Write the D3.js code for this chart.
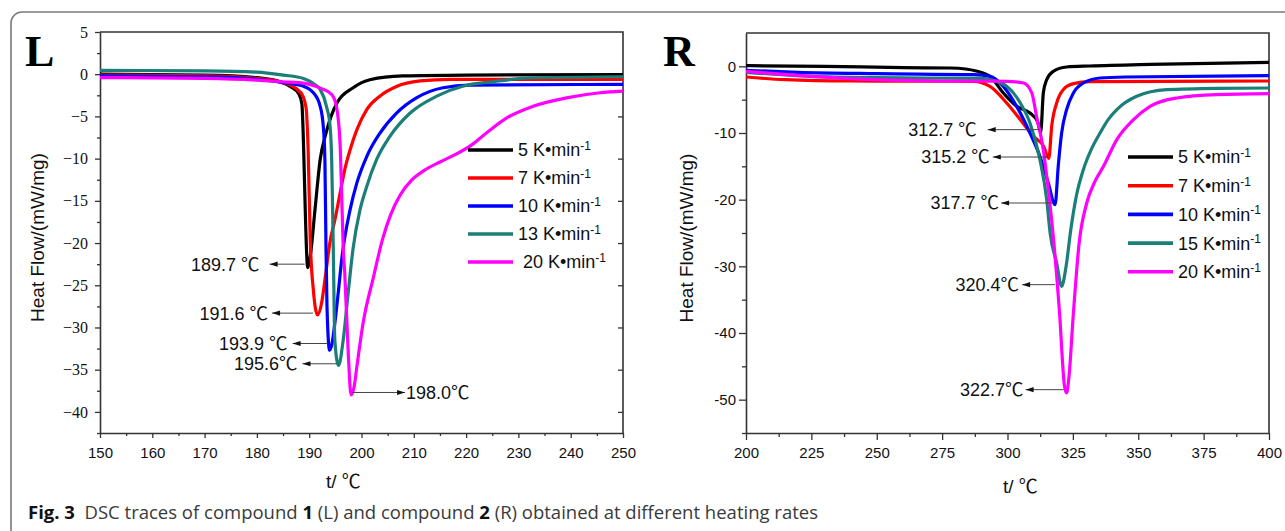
<!DOCTYPE html>
<meta charset="utf-8" />
<script src="https://d3js.org/d3.v7.min.js"></script>
<style>
  body { margin: 0; background: #fff; }
</style>
<body>
<div id="chart"></div>
<script>
// heating rates and line colours
const ratesL = ["5", "7", "10", "13", " 20"];
const ratesR = ["5", "7", "10", "15", "20"];
const colors = ["#000000", "#ff0000", "#0000ff", "#1a7f78", "#ff00ff"];

// compound 1 (L): [t / degC, heat flow / (mW/mg)]
const L5 = [[150,0.0],[170,-0.1],[180,-0.4],[184,-0.8],[186.5,-1.5],[188,-2.3],[188.6,-3.5],[188.9,-8],[189.2,-15],[189.5,-21],[189.7,-22.9],[190.2,-21.6],[191.1,-16.1],[192.1,-10.1],[193.2,-7.0],[195.3,-3.4],[198.4,-1.6],[201.6,-0.65],[207.9,-0.2],[220,-0.1],[250,-0.05]];
const L7 = [[150,-0.1],[170,-0.2],[180,-0.5],[185,-1.0],[187.5,-1.7],[188.8,-2.6],[189.4,-4],[189.8,-9],[190.2,-19.6],[190.8,-25.6],[191.6,-28.5],[192.4,-27],[193.0,-24.4],[194.0,-19.8],[194.9,-17.3],[195.9,-14.1],[196.8,-11.3],[197.8,-9.0],[199.1,-6.6],[201.0,-4.2],[203.5,-2.6],[206.7,-1.45],[211.2,-0.8],[217,-0.6],[250,-0.6]];
const L10 = [[150,-0.2],[170,-0.3],[180,-0.6],[185,-1.0],[188.8,-1.4],[190.8,-2.2],[192.1,-3.8],[192.7,-6.2],[193.0,-10.1],[193.2,-20],[193.4,-27.5],[193.9,-32.7],[194.4,-31.8],[194.9,-29.5],[195.6,-25.6],[196.3,-21.5],[197.8,-16.1],[199.1,-12.9],[201.0,-9.75],[203.5,-7.0],[206.7,-4.6],[210.5,-2.8],[215.6,-1.6],[220.7,-1.3],[250,-1.2]];
const L13 = [[150,0.45],[170,0.4],[180,0.25],[185,-0.1],[188.9,-0.5],[191,-1.2],[192.1,-1.8],[193.3,-3.8],[194.0,-6.2],[194.3,-10.1],[194.6,-20.4],[194.9,-31.5],[195.6,-34.5],[196.5,-31.5],[197.5,-25.6],[198.4,-20.6],[199.7,-16.1],[201.0,-13.3],[202.9,-10.1],[205.4,-7.4],[209.3,-4.6],[214.4,-2.6],[219.5,-1.4],[225,-0.9],[232,-0.45],[250,-0.3]];
const L20 = [[150,-0.4],[170,-0.5],[180,-0.7],[185,-0.9],[188.9,-1.05],[192.1,-1.65],[194.3,-2.4],[195.2,-3.8],[195.9,-8.2],[196.2,-14.1],[196.5,-20.4],[196.8,-23.6],[197.5,-33.5],[198.0,-38.0],[198.6,-37.0],[199.1,-34.7],[200.3,-29.5],[202.3,-24.0],[204.0,-19.6],[205.6,-16.6],[207.4,-14.3],[209.5,-12.6],[212,-11.4],[215,-10.4],[218,-9.5],[221,-8.4],[224,-6.9],[227.7,-5.2],[232.8,-3.8],[239.2,-2.8],[245.6,-2.2],[250,-2.0]];

// compound 2 (R)
const R5 = [[200,0.1],[230,0.0],[260,-0.2],[278,-0.25],[284,-0.4],[288,-0.7],[293.3,-1.5],[298.4,-4.0],[303.5,-6.0],[308.6,-7.0],[311.5,-8.3],[312.7,-9.9],[313.7,-4.0],[315.0,-2.0],[317.5,-0.75],[322.6,-0.1],[331.5,0.05],[354.5,0.3],[400,0.6]];
const R7 = [[200,-1.6],[215,-2.0],[240,-2.2],[287,-2.25],[293.3,-3.0],[299.7,-5.5],[304.9,-8.0],[309.9,-10.5],[313.8,-12.0],[315.8,-13.8],[316.9,-9.0],[318.8,-5.5],[321.3,-3.5],[325.2,-2.6],[331.5,-2.3],[360,-2.25],[400,-2.2]];
const R10 = [[200,-0.6],[220,-0.9],[250,-1.1],[287,-1.25],[293.3,-1.5],[298.4,-3.0],[303.5,-6.0],[308.6,-10.0],[312.4,-13.5],[315.6,-17.5],[318.2,-20.75],[319.4,-15.0],[320.7,-10.0],[322.6,-6.5],[325.2,-4.0],[329.0,-2.5],[335.4,-1.75],[345,-1.6],[400,-1.4]];
const R15 = [[200,-0.9],[225,-1.5],[250,-1.7],[290,-1.8],[293.3,-2.0],[299.7,-3.0],[304.9,-5.5],[308.6,-8.5],[312.4,-14.0],[315.0,-20.0],[316.3,-25.0],[318.8,-29.5],[320.7,-33.0],[322.4,-30.0],[324.2,-24.5],[326.3,-19.5],[329.0,-15.5],[332,-12.5],[335.4,-10.0],[338.5,-8.0],[341.8,-6.5],[349.4,-4.5],[360.9,-3.5],[380,-3.3],[400,-3.25]];
const R20 = [[200,-0.75],[225,-1.5],[250,-2.0],[274,-2.2],[299.7,-2.25],[306.1,-2.5],[309.3,-4.0],[311.1,-7.5],[313.7,-12.5],[315.6,-18.5],[317.5,-25.5],[319.9,-37.0],[321.8,-48.0],[322.6,-49.0],[323.4,-47],[325.2,-37.0],[327.4,-26.5],[330.3,-20.5],[333.4,-17.3],[336.7,-15.0],[341.8,-11.0],[348.2,-8.0],[354.5,-6.0],[364.7,-4.75],[380,-4.25],[400,-4.1]];

// peak markers: where the arrow starts and the printed label
const peakTL = [189.7, 191.6, 193.9, 195.6, 198.0];
const peakVL = [-22.5, -28.3, -31.9, -34.3, -37.7];
const peakTextL = ["189.7 ", "191.6 ", "193.9 ", "195.6", "198.0"];
const peakTR = [312.7, 315.8, 318.2, 320.7, 322.6];
const peakVR = [-9.5, -13.6, -20.5, -32.75, -48.5];
const peakTextR = ["312.7 ", "315.2 ", "317.7 ", "320.4", "322.7"];

// axis ticks
const xTicksL = d3.range(150, 251, 10);
const xMinorL = d3.range(155, 250, 10);
const yTicksL = d3.range(-40, 6, 5);
const yMinorL = d3.range(-42.5, 5, 5);
const xTicksR = d3.range(200, 401, 25);
const xMinorR = d3.range(212.5, 400, 25);
const yTicksR = d3.range(-50, 1, 10);
const yMinorR = d3.range(-55, 5, 10);

const W = 1285, H = 531;
const sans = "'Liberation Sans', Arial, sans-serif";
const cjk = "'Noto Sans CJK SC', 'DejaVu Sans', sans-serif";

const svg = d3.select("#chart").append("svg")
  .attr("width", W).attr("height", H)
  .style("font-family", sans);

// outer frame of the figure box
svg.append("rect")
  .attr("x", 11).attr("y", 12).attr("width", 1320).attr("height", 600)
  .attr("rx", 11)
  .attr("fill", "none").attr("stroke", "#7a7a7a").attr("stroke-width", 1.6);

function drawPanel(p) {
  const x = d3.scaleLinear().domain(p.xDomain).range([p.left, p.right]);
  const y = d3.scaleLinear().domain(p.yDomain).range([p.bottom, p.top]);
  const g = svg.append("g");
  const axisColor = "#333";

  // clip
  const clipId = "clip" + p.name;
  g.append("clipPath").attr("id", clipId).append("rect")
    .attr("x", p.left).attr("y", p.top)
    .attr("width", p.right - p.left).attr("height", p.bottom - p.top);

  // minor ticks
  g.append("g").attr("transform", `translate(0,${p.bottom})`)
    .call(d3.axisBottom(x).tickValues(p.xMinor).tickSize(p.minorLen).tickFormat(""))
    .call(s => s.select(".domain").remove());
  g.append("g").attr("transform", `translate(${p.left},0)`)
    .call(d3.axisLeft(y).tickValues(p.yMinor).tickSize(p.minorLen).tickFormat(""))
    .call(s => s.select(".domain").remove());

  // major axes
  const xa = g.append("g").attr("transform", `translate(0,${p.bottom})`)
    .call(d3.axisBottom(x).tickValues(p.xTicks).tickSize(p.majorLen).tickSizeOuter(0).tickPadding(p.xPad).tickFormat(d3.format("d")));
  xa.selectAll("text").style("font-family", sans).style("font-size", "15px").attr("fill", "#111");

  const ya = g.append("g").attr("transform", `translate(${p.left},0)`)
    .call(d3.axisLeft(y).tickValues(p.yTicks).tickSize(p.majorLen).tickSizeOuter(0).tickPadding(p.yPad).tickFormat(p.yFormat));
  ya.selectAll("text").style("font-family", p.yFont).style("font-size", p.yFontSize).attr("fill", "#111");

  if (p.mirror) {
    g.append("g").attr("transform", `translate(${p.right},0)`)
      .call(d3.axisLeft(y).tickValues(p.yTicks.filter(v => v < 5)).tickSize(p.majorLen).tickFormat(""))
      .call(s => s.select(".domain").remove());
  }

  g.selectAll(".tick line").attr("stroke", axisColor).attr("stroke-width", 1.3);
  g.selectAll(".domain").attr("stroke", axisColor).attr("stroke-width", 1.6);

  // top and right frame lines
  g.append("path")
    .attr("d", `M${p.left},${p.top}H${p.right}V${p.bottom}`)
    .attr("fill", "none").attr("stroke", axisColor).attr("stroke-width", 1.6);

  // traces
  const line = d3.line().x(d => x(d[0])).y(d => y(d[1])).curve(d3.curveMonotoneX);
  g.append("g").attr("clip-path", `url(#${clipId})`)
    .selectAll("path").data(p.series).join("path")
    .attr("d", line)
    .attr("fill", "none")
    .attr("stroke", (d, i) => colors[i])
    .attr("stroke-width", 3.2)
    .attr("stroke-linejoin", "round");

  // peak arrows
  p.peakT.forEach((t, i) => {
    const a = p.arrows[i];
    const yy = y(p.peakV[i]);
    const xs = x(t) + a.off;
    const xe = xs + a.dir * a.len;
    g.append("line").attr("x1", xs).attr("x2", xe).attr("y1", yy).attr("y2", yy)
      .attr("stroke", "#444").attr("stroke-width", 1);
    const hl = 8, hw = 2.6;
    g.append("path")
      .attr("d", `M${xe},${yy}L${xe - a.dir * hl},${yy - hw}L${xe - a.dir * hl},${yy + hw}Z`)
      .attr("fill", "#111");
    const txt = g.append("text")
      .attr("x", xe + a.dir * a.gap).attr("y", yy).attr("dy", "0.36em")
      .attr("text-anchor", a.dir < 0 ? "end" : "start")
      .style("font-size", "18px").attr("fill", "#111");
    txt.append("tspan").text(p.peakText[i]);
    txt.append("tspan").style("font-family", cjk).style("font-size", "18.5px").text("\u2103");
  });

  // legend
  p.rates.forEach((r, i) => {
    const ly = p.legY + i * p.legDy;
    g.append("line").attr("x1", p.legX).attr("x2", p.legX + 45)
      .attr("y1", ly).attr("y2", ly)
      .attr("stroke", colors[i]).attr("stroke-width", 3.6);
    const t = g.append("text").attr("x", p.legX + 50).attr("y", ly).attr("dy", "0.36em")
      .style("font-size", "18px").attr("fill", "#111").attr("xml:space", "preserve");
    t.append("tspan").text(r + " K\u2022min");
    t.append("tspan").attr("dy", "-0.55em").style("font-size", "12px").text("-1");
  });

  // axis titles
  g.append("text")
    .attr("transform", `translate(${p.yTitleX},${(p.top + p.bottom) / 2 + 5}) rotate(-90)`)
    .attr("text-anchor", "middle").style("font-size", "19px").attr("fill", "#111")
    .text("Heat Flow/(mW/mg)");
  const xt = g.append("text").attr("x", p.xTitleX).attr("y", p.xTitleY)
    .style("font-size", "19px").attr("fill", "#111");
  xt.append("tspan").text("t/ ");
  xt.append("tspan").style("font-family", cjk).text("\u2103");

  // panel letter
  g.append("text").attr("x", p.letterX).attr("y", 66)
    .style("font-family", "'Liberation Serif', 'Times New Roman', serif")
    .style("font-weight", "bold").style("font-size", "44px").attr("fill", "#000")
    .text(p.name);
}

drawPanel({
  name: "L", left: 100, right: 623, top: 32, bottom: 433,
  xDomain: [150, 250], yDomain: [-42.5, 5],
  xTicks: xTicksL, xMinor: xMinorL, yTicks: yTicksL, yMinor: yMinorL,
  majorLen: 5, minorLen: 3, xPad: 9, yPad: 7,
  yFormat: d3.format("d"), yFont: "'Liberation Serif', 'Times New Roman', serif", yFontSize: "16px",
  mirror: true,
  series: [L5, L7, L10, L13, L20],
  peakT: peakTL, peakV: peakVL, peakText: peakTextL,
  arrows: [
    { off: -3, len: 35, dir: -1, gap: 10 },
    { off: -4.5, len: 41, dir: -1, gap: 4 },
    { off: -2, len: 35, dir: -1, gap: 5 },
    { off: -2, len: 34, dir: -1, gap: 5 },
    { off: 1, len: 53, dir: 1, gap: 1 }
  ],
  rates: ratesL, legX: 468, legY: 150, legDy: 28,
  yTitleX: 44, xTitleX: 326, xTitleY: 488, letterX: 25
});

drawPanel({
  name: "R", left: 746, right: 1269, top: 33, bottom: 433,
  xDomain: [200, 400], yDomain: [-55, 5],
  xTicks: xTicksR, xMinor: xMinorR, yTicks: yTicksR, yMinor: yMinorR,
  majorLen: 7, minorLen: 4, xPad: 7, yPad: 3,
  yFormat: d => String(d), yFont: sans, yFontSize: "15px",
  mirror: false,
  series: [R5, R7, R10, R15, R20],
  peakT: peakTR, peakV: peakVR, peakText: peakTextR,
  arrows: [
    { off: -1, len: 52, dir: -1, gap: 11 },
    { off: -1, len: 55, dir: -1, gap: 3 },
    { off: -2, len: 52, dir: -1, gap: 2 },
    { off: -6.5, len: 33, dir: -1, gap: 3 },
    { off: -3, len: 38, dir: -1, gap: 2 }
  ],
  rates: ratesR, legX: 1128, legY: 157, legDy: 28.7,
  yTitleX: 693, xTitleX: 1003, xTitleY: 493, letterX: 663
});

// caption
const cap = svg.append("text").attr("x", 28).attr("y", 519)
  .style("font-family", "'Open Sans', 'Noto Sans', sans-serif")
  .style("font-size", "18.5px").attr("fill", "#3a3a3a").attr("xml:space", "preserve");
cap.append("tspan").style("font-weight", "bold").attr("fill", "#111").text("Fig. 3");
cap.append("tspan").text("  DSC traces of compound ");
cap.append("tspan").style("font-weight", "bold").attr("fill", "#111").text("1");
cap.append("tspan").text(" (L) and compound ");
cap.append("tspan").style("font-weight", "bold").attr("fill", "#111").text("2");
cap.append("tspan").text(" (R) obtained at different heating rates");
</script>
</body>
